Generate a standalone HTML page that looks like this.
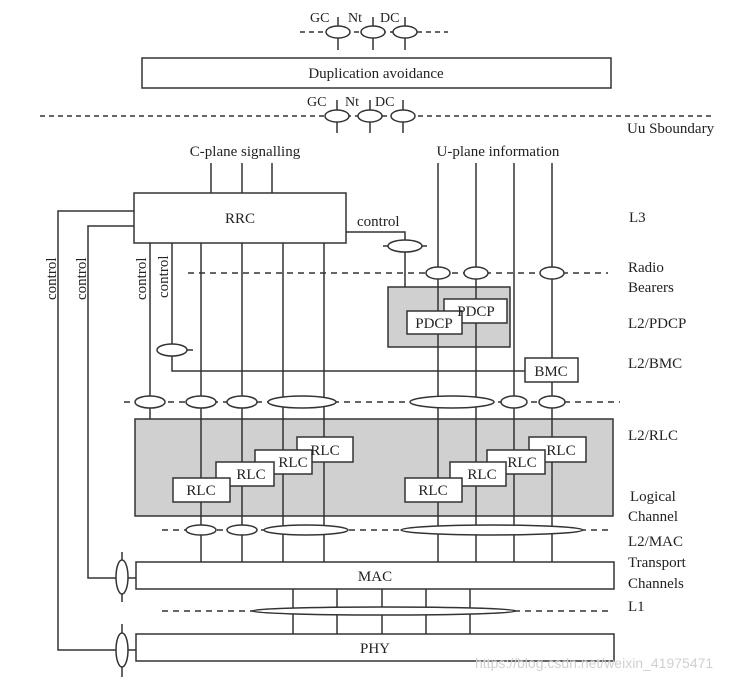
<!DOCTYPE html>
<html><head><meta charset="utf-8"><style>
html,body{margin:0;padding:0;background:#fff;}
svg{display:block;font-family:"Liberation Serif",serif;}
</style></head><body>
<svg width="753" height="683" viewBox="0 0 753 683" xmlns="http://www.w3.org/2000/svg">
<g stroke="#333" stroke-width="1.5" fill="none">
<line x1="300" y1="32" x2="448" y2="32" stroke-dasharray="5,4"/>
<line x1="338" y1="17" x2="338" y2="50"/><line x1="373" y1="17" x2="373" y2="50"/><line x1="405" y1="17" x2="405" y2="50"/>
<ellipse cx="338" cy="32" rx="12" ry="6" fill="#fff"/><ellipse cx="373" cy="32" rx="12" ry="6" fill="#fff"/><ellipse cx="405" cy="32" rx="12" ry="6" fill="#fff"/>
<rect x="142" y="58" width="469" height="30" fill="#fff"/>
<line x1="40" y1="116" x2="715" y2="116" stroke-dasharray="5,4"/>
<line x1="337" y1="100" x2="337" y2="133"/><line x1="370" y1="100" x2="370" y2="133"/><line x1="403" y1="100" x2="403" y2="133"/>
<ellipse cx="337" cy="116" rx="12" ry="6" fill="#fff"/><ellipse cx="370" cy="116" rx="12" ry="6" fill="#fff"/><ellipse cx="403" cy="116" rx="12" ry="6" fill="#fff"/>
<line x1="211" y1="163" x2="211" y2="193"/><line x1="242" y1="163" x2="242" y2="193"/><line x1="272" y1="163" x2="272" y2="193"/>
<line x1="188" y1="273" x2="608" y2="273" stroke-dasharray="6,5"/>
<line x1="124" y1="402" x2="620" y2="402" stroke-dasharray="6,5"/>
<line x1="162" y1="530" x2="611" y2="530" stroke-dasharray="6,5"/>
<line x1="162" y1="611" x2="611" y2="611" stroke-dasharray="6,5"/>
<rect x="388" y="287" width="122" height="60" fill="#d0d0d0"/>
<rect x="135" y="419" width="478" height="97" fill="#d0d0d0"/>
<polyline points="134,211 58,211 58,650 136,650"/>
<polyline points="134,226 88,226 88,578 136,578"/>
<line x1="122" y1="552" x2="122" y2="602"/><ellipse cx="122" cy="577" rx="6" ry="17" fill="#fff"/>
<line x1="122" y1="624" x2="122" y2="677"/><ellipse cx="122" cy="650" rx="6" ry="17" fill="#fff"/>
<line x1="150" y1="243" x2="150" y2="419"/>
<polyline points="172,243 172,371 525,371"/>
<line x1="157" y1="350" x2="193" y2="350"/><ellipse cx="172" cy="350" rx="15" ry="6" fill="#fff"/>
<line x1="201" y1="243" x2="201" y2="562"/><line x1="242" y1="243" x2="242" y2="562"/>
<line x1="283" y1="243" x2="283" y2="562"/><line x1="324" y1="243" x2="324" y2="562"/>
<line x1="438" y1="163" x2="438" y2="562"/><line x1="476" y1="163" x2="476" y2="562"/>
<line x1="514" y1="163" x2="514" y2="562"/><line x1="552" y1="163" x2="552" y2="562"/>
<rect x="134" y="193" width="212" height="50" fill="#fff"/>
<polyline points="346,232 405,232 405,287"/>
<line x1="383" y1="246" x2="427" y2="246"/><ellipse cx="405" cy="246" rx="17" ry="6" fill="#fff"/>
<ellipse cx="438" cy="273" rx="12" ry="6" fill="#fff"/><ellipse cx="476" cy="273" rx="12" ry="6" fill="#fff"/><ellipse cx="552" cy="273" rx="12" ry="6" fill="#fff"/>
<rect x="444" y="299" width="63" height="24" fill="#fff"/>
<rect x="407" y="311" width="55" height="23" fill="#fff"/>
<rect x="525" y="358" width="53" height="24" fill="#fff"/>
<ellipse cx="150" cy="402" rx="15" ry="6" fill="#fff"/><ellipse cx="201" cy="402" rx="15" ry="6" fill="#fff"/>
<ellipse cx="242" cy="402" rx="15" ry="6" fill="#fff"/><ellipse cx="302" cy="402" rx="34" ry="6" fill="#fff"/>
<ellipse cx="452" cy="402" rx="42" ry="6" fill="#fff"/><ellipse cx="514" cy="402" rx="13" ry="6" fill="#fff"/><ellipse cx="552" cy="402" rx="13" ry="6" fill="#fff"/>
<rect x="297" y="437" width="56" height="25" fill="#fff"/>
<rect x="255" y="450" width="57" height="24" fill="#fff"/>
<rect x="216" y="462" width="58" height="24" fill="#fff"/>
<rect x="173" y="478" width="57" height="24" fill="#fff"/>
<rect x="529" y="437" width="57" height="25" fill="#fff"/>
<rect x="487" y="450" width="58" height="24" fill="#fff"/>
<rect x="450" y="462" width="56" height="24" fill="#fff"/>
<rect x="405" y="478" width="57" height="24" fill="#fff"/>
<ellipse cx="201" cy="530" rx="15" ry="5" fill="#fff"/><ellipse cx="242" cy="530" rx="15" ry="5" fill="#fff"/>
<ellipse cx="306" cy="530" rx="42" ry="5" fill="#fff"/><ellipse cx="492" cy="530" rx="91" ry="5" fill="#fff"/>
<rect x="136" y="562" width="478" height="27" fill="#fff"/>
<line x1="293" y1="589" x2="293" y2="634"/><line x1="337" y1="589" x2="337" y2="634"/><line x1="382" y1="589" x2="382" y2="634"/>
<line x1="426" y1="589" x2="426" y2="634"/><line x1="470" y1="589" x2="470" y2="634"/>
<ellipse cx="384" cy="611" rx="132" ry="4" fill="#fff"/>
<rect x="136" y="634" width="478" height="27" fill="#fff"/>
</g>
<g fill="#222" font-size="15">
<text x="310" y="22" font-size="14">GC</text><text x="348" y="22" font-size="14">Nt</text><text x="380" y="22" font-size="14">DC</text>
<text x="376" y="78" text-anchor="middle">Duplication avoidance</text>
<text x="307" y="106" font-size="14">GC</text><text x="345" y="106" font-size="14">Nt</text><text x="375" y="106" font-size="14">DC</text>
<text x="627" y="133">Uu Sboundary</text>
<text x="245" y="156" text-anchor="middle">C-plane signalling</text>
<text x="498" y="156" text-anchor="middle">U-plane information</text>
<text x="240" y="223" text-anchor="middle">RRC</text>
<text x="357" y="226">control</text>
<text transform="translate(56,300) rotate(-90)">control</text>
<text transform="translate(86,300) rotate(-90)">control</text>
<text transform="translate(146,300) rotate(-90)">control</text>
<text transform="translate(168,298) rotate(-90)">control</text>
<text x="629" y="222">L3</text>
<text x="628" y="272">Radio</text><text x="628" y="292">Bearers</text>
<text x="628" y="328">L2/PDCP</text><text x="628" y="368">L2/BMC</text>
<text x="628" y="440">L2/RLC</text>
<text x="630" y="501">Logical</text><text x="628" y="521">Channel</text>
<text x="628" y="546">L2/MAC</text><text x="628" y="567">Transport</text><text x="628" y="588">Channels</text>
<text x="628" y="611">L1</text>
<text x="476" y="316" text-anchor="middle">PDCP</text><text x="434" y="328" text-anchor="middle">PDCP</text>
<text x="551" y="376" text-anchor="middle">BMC</text>
<text x="325" y="455" text-anchor="middle">RLC</text><text x="293" y="467" text-anchor="middle">RLC</text>
<text x="251" y="479" text-anchor="middle">RLC</text><text x="201" y="495" text-anchor="middle">RLC</text>
<text x="561" y="455" text-anchor="middle">RLC</text><text x="522" y="467" text-anchor="middle">RLC</text>
<text x="482" y="479" text-anchor="middle">RLC</text><text x="433" y="495" text-anchor="middle">RLC</text>
<text x="375" y="581" text-anchor="middle">MAC</text>
<text x="375" y="653" text-anchor="middle">PHY</text>
</g>
<text x="475" y="668" font-family="Liberation Sans,sans-serif" font-size="14" fill="#d0d0d0">https://blog.csdn.net/weixin_41975471</text>
</svg>
</body></html>
